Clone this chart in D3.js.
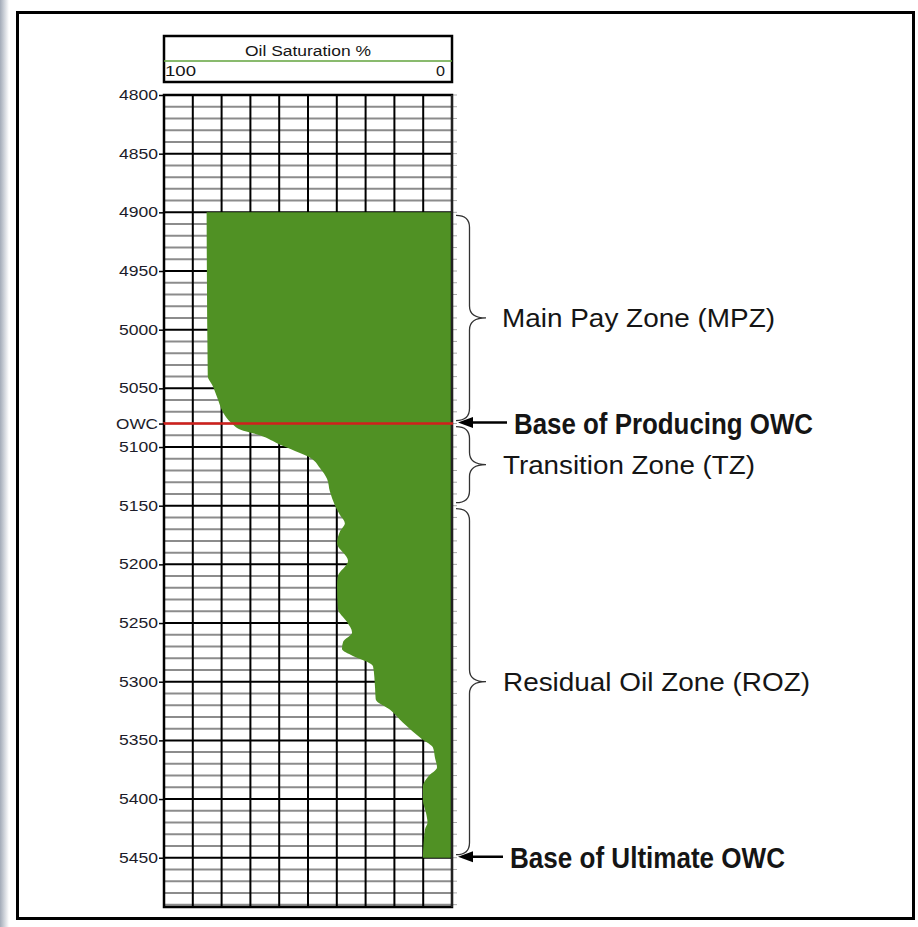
<!DOCTYPE html>
<html lang="en">
<head>
    <meta charset="utf-8">
    <title>Oil Saturation Profile</title>
    <script src="https://d3js.org/d3.v7.min.js" charset="utf-8"></script>
    <style>
        body { margin: 0; background: #fff; }
        .axis path { display: none; }
        .axis line { stroke: #000; stroke-width: 1.5; }
        .axis text { font-family: "Liberation Sans", Arial, sans-serif; font-size: 14px; fill: #1c1c2a; }
        .lbl { font-family: "Liberation Sans", Arial, sans-serif; fill: #151515; }
    </style>
</head>
<body>
<script>
    // depth (ft) vs oil saturation (%)
    var depthFt = [4900, 5040, 5047, 5060, 5067, 5075, 5080, 5085, 5090, 5098, 5105, 5108, 5118, 5127, 5138, 5150,
                   5158, 5165, 5172, 5182, 5197, 5210, 5218, 5238, 5249, 5258, 5266, 5272, 5278, 5283, 5287, 5306,
                   5315, 5324, 5335, 5349, 5356, 5365, 5373, 5381, 5389, 5401, 5412, 5420, 5426, 5450]
    var oilSat = [85.2, 84.8, 83.3, 81.2, 80.2, 78.3, 76.4, 73.6, 66.7, 59.7, 52.8, 50.0, 45.8, 43.4, 42.4, 40.6,
                  38.9, 37.2, 38.9, 39.9, 36.1, 39.6, 39.9, 39.6, 36.5, 34.7, 37.8, 38.2, 34.4, 29.5, 27.4, 26.7,
                  26.5, 21.5, 17.0, 10.4, 6.6, 5.9, 5.2, 8.3, 10.1, 10.1, 9.0, 8.5, 9.4, 10.1]

    var depthTicks = [4800, 4850, 4900, 4950, 5000, 5050, 5080, 5100, 5150, 5200, 5250, 5300, 5350, 5400, 5450]
    var owcDepth = 5080
    var ultimateOwc = 5450
    var zoneNames = ["Main Pay Zone (MPZ)", "Transition Zone (TZ)", "Residual Oil Zone (ROZ)"]
    var zoneTop = [4900, 5080, 5150]
    var zoneBase = [5080, 5150, 5450]
    var satTicks = [100, 0]

    var w = 918, h = 927
    var green = "#509124"

    var svg = d3.select("body").append("svg").attr("width", w).attr("height", h)

    var defs = svg.append("defs")
    var grad = defs.append("linearGradient").attr("id", "edge")
    grad.append("stop").attr("offset", "0").attr("stop-color", "#a3abb8")
    grad.append("stop").attr("offset", "1").attr("stop-color", "#ffffff")
    svg.append("rect").attr("x", 0).attr("y", 0).attr("width", 9).attr("height", h).attr("fill", "url(#edge)")

    // outer frame
    svg.append("rect").attr("x", 17.5).attr("y", 12.5).attr("width", 896).attr("height", 906)
        .attr("fill", "none").attr("stroke", "#000").attr("stroke-width", 3)

    var xScale = d3.scaleLinear().domain([100, 0]).range([164, 452])
    var yScale = d3.scaleLinear().domain([4800, 5492]).range([95, 907])

    // header box
    svg.append("rect").attr("x", xScale(100)).attr("y", 36).attr("width", xScale(0) - xScale(100)).attr("height", 46)
        .attr("fill", "#fff").attr("stroke", "#000").attr("stroke-width", 2.5)
    svg.append("line").attr("x1", xScale(100)).attr("x2", xScale(0)).attr("y1", 61).attr("y2", 61)
        .attr("stroke", "#62a33c").attr("stroke-width", 1.5)
    svg.append("text").attr("class", "lbl").attr("x", (xScale(100) + xScale(0)) / 2).attr("y", 56)
        .attr("text-anchor", "middle").attr("font-size", 14).attr("textLength", 126).attr("lengthAdjust", "spacingAndGlyphs")
        .text("Oil Saturation %")
    svg.selectAll(".satlbl").data(satTicks).enter().append("text").attr("class", "lbl satlbl")
        .attr("x", function (d) { return d == 100 ? xScale(d) + 1 : xScale(d) - 7 })
        .attr("y", 76)
        .attr("text-anchor", function (d) { return d == 100 ? "start" : "end" })
        .attr("font-size", 14)
        .attr("textLength", function (d) { return d == 100 ? 31 : 9 })
        .attr("lengthAdjust", "spacingAndGlyphs")
        .text(function (d) { return d })

    // grid
    var grid = svg.append("g")
    grid.selectAll(".hmin").data(d3.range(4800, 5492, 10)).enter().append("line")
        .attr("x1", xScale(100)).attr("x2", xScale(0))
        .attr("y1", function (d) { return yScale(d) }).attr("y2", function (d) { return yScale(d) })
        .attr("stroke", function (d) { return d % 50 == 0 ? "#000" : "#8c8c8c" })
        .attr("stroke-width", function (d) { return d % 50 == 0 ? 2 : 2 })
    grid.selectAll(".vline").data(d3.range(0, 101, 10)).enter().append("line")
        .attr("x1", function (d) { return xScale(d) }).attr("x2", function (d) { return xScale(d) })
        .attr("y1", yScale(4800)).attr("y2", yScale(5492))
        .attr("stroke", "#000").attr("stroke-width", 2)

    // small ticks outside the right edge
    grid.selectAll(".rtick").data(d3.range(4800, 5492, 10)).enter().append("line")
        .attr("x1", xScale(0) + 1).attr("x2", xScale(0) + 5)
        .attr("y1", function (d) { return yScale(d) }).attr("y2", function (d) { return yScale(d) })
        .attr("stroke", "#aaa").attr("stroke-width", 1)

    // oil saturation fill
    var profile = depthFt.map(function (d, i) { return { depth: d, so: oilSat[i] } })
    var area = d3.area()
        .x0(function (d) { return xScale(d.so) })
        .x1(xScale(0))
        .y(function (d) { return yScale(d.depth) })
        .curve(d3.curveMonotoneY)
    svg.append("path").datum(profile).attr("d", area).attr("fill", green)

    // plot border
    svg.append("rect").attr("x", xScale(100)).attr("y", yScale(4800))
        .attr("width", xScale(0) - xScale(100)).attr("height", yScale(5492) - yScale(4800))
        .attr("fill", "none").attr("stroke", "#000").attr("stroke-width", 2.5)
    svg.append("line").attr("x1", xScale(0)).attr("x2", xScale(0)).attr("y1", yScale(4800)).attr("y2", yScale(5492))
        .attr("stroke", "#222").attr("stroke-width", 2)

    // producing OWC line
    svg.append("line").attr("x1", xScale(100) - 1).attr("x2", xScale(0) + 1)
        .attr("y1", yScale(owcDepth)).attr("y2", yScale(owcDepth))
        .attr("stroke", "#d0201c").attr("stroke-width", 2.5)

    // depth axis
    var yAxis = d3.axisLeft(yScale).tickValues(depthTicks).tickSize(5).tickPadding(1)
        .tickFormat(function (d) { return d == owcDepth ? "OWC" : d })
    var ax = svg.append("g").attr("class", "axis").attr("transform", "translate(" + xScale(100) + ",0)").call(yAxis)
    ax.selectAll("text").attr("textLength", function (d) { return d == owcDepth ? 42 : 39 })
        .attr("lengthAdjust", "spacingAndGlyphs")

    // braces
    function brace(x0, y0, y1, wd) {
        var xm = x0 + wd * 0.45, x1 = x0 + wd, ym = (y0 + y1) / 2, r = Math.min(12, (y1 - y0) / 4)
        return "M" + x0 + "," + y0 +
            " Q" + xm + "," + y0 + " " + xm + "," + (y0 + r) +
            " L" + xm + "," + (ym - r) +
            " Q" + xm + "," + ym + " " + x1 + "," + ym +
            " Q" + xm + "," + ym + " " + xm + "," + (ym + r) +
            " L" + xm + "," + (y1 - r) +
            " Q" + xm + "," + y1 + " " + x0 + "," + y1
    }
    var bx = xScale(0) + 4
    svg.selectAll(".brace").data(zoneNames).enter().append("path")
        .attr("d", function (d, i) { return brace(bx, yScale(zoneTop[i]) + 3, yScale(zoneBase[i]) - 3, 30) })
        .attr("fill", "none").attr("stroke", "#333").attr("stroke-width", 1.3)

    var labelX = [502, 503, 503]
    var labelLen = [273, 252, 307]
    svg.selectAll(".zone").data(zoneNames).enter().append("text").attr("class", "lbl zone")
        .attr("x", function (d, i) { return labelX[i] })
        .attr("y", function (d, i) { return (yScale(zoneTop[i]) + yScale(zoneBase[i])) / 2 + 9 })
        .attr("font-size", 25)
        .attr("textLength", function (d, i) { return labelLen[i] })
        .attr("lengthAdjust", "spacingAndGlyphs")
        .text(function (d) { return d })

    // arrows to contacts
    var arrows = [
        { depth: owcDepth, text: "Base of Producing OWC", tx: 514, len: 299, x0: 507 },
        { depth: ultimateOwc, text: "Base of Ultimate OWC", tx: 510, len: 275, x0: 503 }
    ]
    var tip = xScale(0) + 6
    arrows.forEach(function (a) {
        var y = yScale(a.depth) - 1
        svg.append("line").attr("x1", a.x0).attr("x2", tip + 10).attr("y1", y).attr("y2", y)
            .attr("stroke", "#000").attr("stroke-width", 2.5)
        svg.append("path").attr("d", "M" + tip + "," + y + " L" + (tip + 15) + "," + (y - 5.5) + " L" + (tip + 15) + "," + (y + 5.5) + "Z")
            .attr("fill", "#000")
        svg.append("text").attr("class", "lbl").attr("x", a.tx).attr("y", y + 11)
            .attr("font-size", 29).attr("font-weight", "bold")
            .attr("textLength", a.len).attr("lengthAdjust", "spacingAndGlyphs")
            .text(a.text)
    })
</script>
</body>
</html>
